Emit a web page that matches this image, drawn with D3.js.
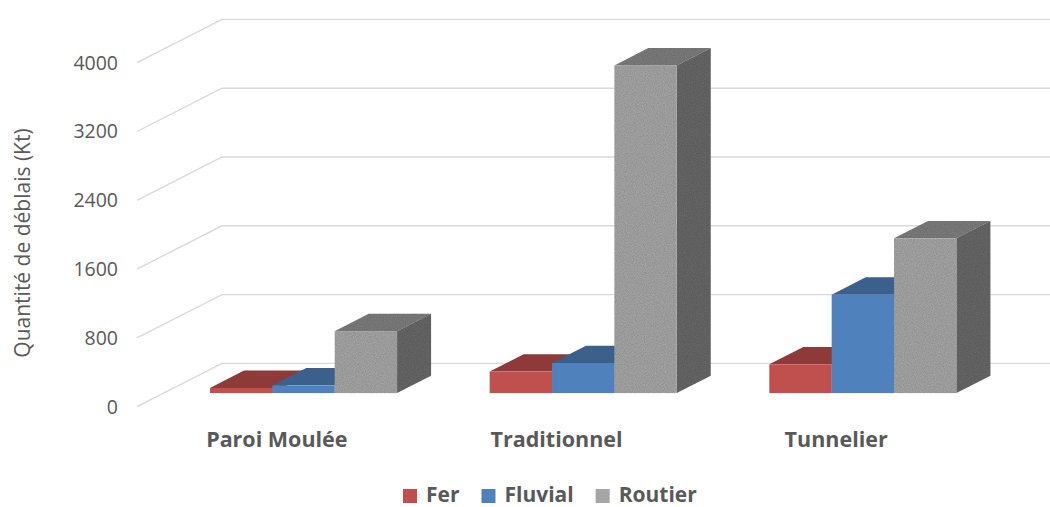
<!DOCTYPE html>
<html>
<head>
<meta charset="utf-8">
<script src="https://cdn.jsdelivr.net/npm/d3@7"></script>
<style>
  html, body { margin: 0; padding: 0; background: #fff; }
  svg { display: block; font-family: "Open Sans", "Noto Sans", sans-serif; }
</style>
</head>
<body>
<svg id="chart" width="1050" height="507"></svg>
<script>
// Excavated material by transport mode and construction method (kt)
const categories = ["Paroi Moulée", "Traditionnel", "Tunnelier"];
const seriesNames = ["Fer", "Fluvial", "Routier"];
const fer = [60, 250, 335];
const fluvial = [90, 350, 1145];
const routier = [720, 3810, 1800];
const yTicks = [0, 800, 1600, 2400, 3200, 4000];

const seriesValues = [fer, fluvial, routier];
const palette = {
  Fer:     { front: "#C0504D", top: "#8E3A38", side: "#7A3230" },
  Fluvial: { front: "#4F81BD", top: "#3B608C", side: "#34557C" },
  Routier: { front: "#A5A5A5", top: "#7D7D7D", side: "#676767" }
};

const svg = d3.select("#chart");
const W = 1050, H = 507;

// Oblique 3D projection: floor front-left corner and depth vector of the box
const origin = { x: 137, y: 406.7 };
const depth = { dx: 85, dy: -43.3 };
const barDepthStart = 0.314, barDepth = 0.4;

const y = d3.scaleLinear().domain([0, 4000]).range([0, 344]);
const x0 = d3.scaleBand().domain(categories)
  .range([origin.x, origin.x + 839]).paddingInner(0.331).paddingOuter(0.1655);
const x1 = d3.scaleBand().domain(seriesNames).range([0, x0.bandwidth()]);

// grain for the textured bars
const defs = svg.append("defs");
const f = defs.append("filter").attr("id", "grain").attr("x", 0).attr("y", 0)
  .attr("width", 1).attr("height", 1);
f.append("feTurbulence").attr("type", "fractalNoise").attr("baseFrequency", 1.1)
  .attr("numOctaves", 1).attr("seed", 3).attr("result", "noise");
f.append("feColorMatrix").attr("in", "noise").attr("type", "matrix")
  .attr("values", "0 0 0 0 0  0 0 0 0 0  0 0 0 0 0  0 0 0 -0.5 0.38").attr("result", "dots");
f.append("feComposite").attr("in", "dots").attr("in2", "SourceGraphic").attr("operator", "in").attr("result", "dotsIn");
f.append("feMerge").selectAll("feMergeNode").data(["SourceGraphic", "dotsIn"]).join("feMergeNode").attr("in", d => d);

// Gridlines: left wall diagonals and back wall horizontals
const grid = svg.append("g").attr("stroke", "#D9D9D9").attr("stroke-width", 1.4).attr("fill", "none");
yTicks.forEach(v => {
  const fy = origin.y - y(v);
  grid.append("path").attr("d", d3.line()([
    [origin.x, fy],
    [origin.x + depth.dx, fy + depth.dy],
    [W, fy + depth.dy]
  ]));
});

// Tick labels
svg.append("g").selectAll("text").data(yTicks).join("text")
  .attr("x", 118).attr("y", v => origin.y - y(v))
  .attr("dy", "0.35em")
  .attr("text-anchor", "end")
  .attr("fill", "#595959").attr("font-size", 19.5)
  .text(v => v);

// Axis title
svg.append("text")
  .attr("transform", "translate(30,243) rotate(-90)")
  .attr("text-anchor", "middle")
  .attr("fill", "#595959").attr("font-size", 21)
  .text("Quantité de déblais (Kt)");

// Bars, drawn left to right so that each covers the side of its neighbour
const bars = svg.append("g");
const ddx = depth.dx * barDepth, ddy = depth.dy * barDepth;
categories.forEach((c, ci) => {
  seriesNames.forEach((s, si) => {
    const v = seriesValues[si][ci];
    const bw = x1.bandwidth();
    const xl = x0(c) + x1(s) + depth.dx * barDepthStart;
    const yb = origin.y + depth.dy * barDepthStart;
    const yt = yb - y(v);
    const col = palette[s];
    const g = bars.append("g");
    if (s === "Routier") g.attr("filter", "url(#grain)");
    g.append("path").attr("fill", col.top).attr("d", d3.line()([
      [xl, yt], [xl + ddx, yt + ddy], [xl + bw + ddx, yt + ddy], [xl + bw, yt]
    ]) + "Z");
    g.append("path").attr("fill", col.side).attr("d", d3.line()([
      [xl + bw, yt], [xl + bw + ddx, yt + ddy], [xl + bw + ddx, yb + ddy], [xl + bw, yb]
    ]) + "Z");
    g.append("rect").attr("fill", col.front)
      .attr("x", xl).attr("y", yt).attr("width", bw).attr("height", yb - yt);
  });
});

// Category labels
svg.append("g").selectAll("text").data(categories).join("text")
  .attr("x", c => x0(c) + x0.bandwidth() / 2).attr("y", 447)
  .attr("text-anchor", "middle")
  .attr("fill", "#595959").attr("font-size", 21.5).attr("font-weight", "bold")
  .text(c => c);

// Legend
const legend = svg.append("g");
let lx = 403;
seriesNames.forEach(s => {
  legend.append("rect").attr("x", lx).attr("y", 489).attr("width", 14).attr("height", 14)
    .attr("fill", palette[s].front);
  const t = legend.append("text").attr("x", lx + 23).attr("y", 502)
    .attr("fill", "#595959").attr("font-size", 21).attr("font-weight", "bold")
    .text(s);
  lx += 23 + t.node().getComputedTextLength() + 22;
});
</script>
</body>
</html>
